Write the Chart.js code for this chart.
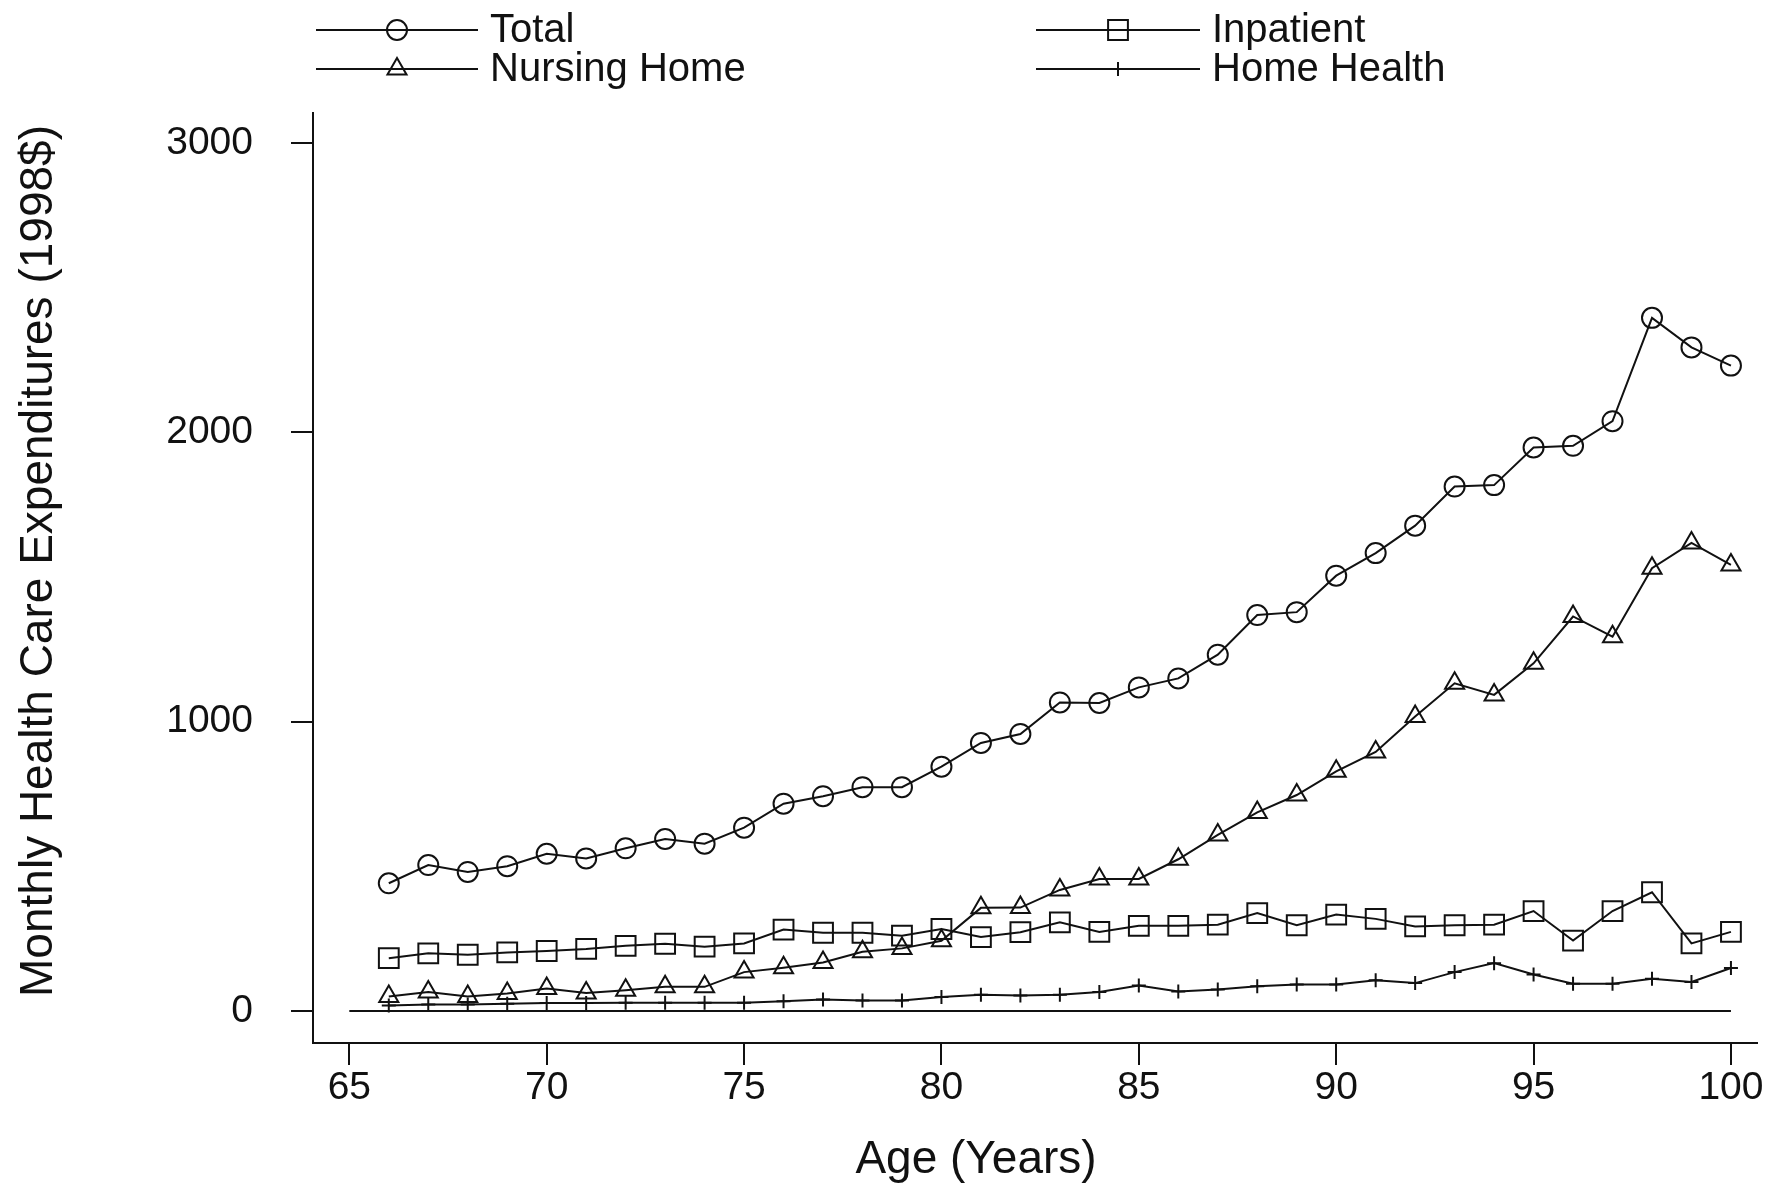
<!DOCTYPE html>
<html>
<head>
<meta charset="utf-8">
<title>Monthly Health Care Expenditures by Age</title>
<script src="https://cdn.jsdelivr.net/npm/chart.js@4.4.1/dist/chart.umd.min.js"></script>
<style>
  html, body { margin: 0; padding: 0; background: #fff; }
  #wrap { width: 1770px; height: 1191px; }
</style>
</head>
<body>
<div id="wrap"><canvas id="expChart" width="1770" height="1191"></canvas></div>
<script>
// ages (years) and monthly expenditures in 1998$
const ages = [66, 67, 68, 69, 70, 71, 72, 73, 74, 75, 76, 77, 78, 79, 80, 81, 82, 83,
              84, 85, 86, 87, 88, 89, 90, 91, 92, 93, 94, 95, 96, 97, 98, 99, 100];
const total = [441, 504, 480, 500, 543, 527, 562, 594, 578, 633, 716, 742, 773, 773, 844, 926, 957, 1066,
               1064, 1118, 1149, 1231, 1368, 1378, 1504, 1582, 1677, 1812, 1817, 1947, 1953, 2038, 2395, 2293, 2230];
const inpatient = [182, 199, 194, 202, 207, 214, 225, 232, 222, 233, 281, 270, 270, 260, 283, 255, 272, 306,
                   273, 294, 294, 298, 338, 296, 333, 318, 292, 296, 298, 345, 243, 345, 410, 233, 273];
const nursingHome = [50, 65, 50, 60, 77, 62, 71, 83, 83, 134, 149, 167, 204, 216, 242, 356, 357, 418,
                     456, 456, 524, 608, 686, 746, 828, 895, 1017, 1132, 1092, 1201, 1363, 1293, 1530, 1617, 1541];
const homeHealth = [19, 22, 22, 25, 27, 27, 28, 28, 28, 28, 33, 39, 36, 36, 48, 56, 53, 56,
                    65, 88, 67, 74, 85, 91, 91, 106, 96, 134, 165, 126, 94, 94, 111, 100, 148];

// zero reference line drawn across the age range
const refAges = [65, 100];
const refValues = [0, 0];

const xTicks = [65, 70, 75, 80, 85, 90, 95, 100];
const yTicks = [0, 1000, 2000, 3000];

const INK = '#111';
const FONT = '"Liberation Sans", Arial, Helvetica, sans-serif';

function toPoints(xs, ys) {
    return xs.map((x, i) => ({ x: x, y: ys[i] }));
}

function series(label, ys, style, radius) {
    return {
        label: label,
        data: toPoints(ages, ys),
        borderColor: INK,
        borderWidth: 2,
        pointStyle: style,
        pointRadius: radius,
        pointBorderColor: INK,
        pointBackgroundColor: 'rgba(0,0,0,0)',
        pointBorderWidth: 2,
        tension: 0,
        fill: false,
        clip: false
    };
}

const datasets = [
    series('Total', total, 'circle', 10),
    series('Inpatient', inpatient, 'rect', 14),
    series('Nursing Home', nursingHome, 'triangle', 11),
    series('Home Health', homeHealth, 'cross', 7),
    {
        label: '',
        data: toPoints(refAges, refValues),
        borderColor: INK,
        borderWidth: 2,
        pointRadius: 0,
        fill: false
    }
];

// legend slots: line start, line end, row line y, text baseline
const legendSlots = {
    'Total':        { x0: 316, x1: 478, y: 30, base: 42 },
    'Nursing Home': { x0: 316, x1: 478, y: 69, base: 81 },
    'Inpatient':    { x0: 1036, x1: 1200, y: 30, base: 42 },
    'Home Health':  { x0: 1036, x1: 1200, y: 69, base: 81 }
};

const figureText = {
    id: 'figureText',
    afterDraw(chart) {
        const ctx = chart.ctx;
        ctx.save();
        ctx.strokeStyle = INK;
        ctx.fillStyle = INK;
        ctx.lineWidth = 2;

        // legend
        chart.data.datasets.forEach(ds => {
            const slot = legendSlots[ds.label];
            if (!slot) return;
            ctx.beginPath();
            ctx.moveTo(slot.x0, slot.y);
            ctx.lineTo(slot.x1, slot.y);
            ctx.stroke();
            ctx.fillStyle = 'rgba(0,0,0,0)';
            Chart.helpers.drawPoint(ctx, {
                pointStyle: ds.pointStyle,
                radius: ds.pointRadius,
                borderWidth: 2,
                rotation: 0
            }, (slot.x0 + slot.x1) / 2, slot.y);
            ctx.fillStyle = INK;
            ctx.font = '40px ' + FONT;
            ctx.textAlign = 'left';
            ctx.textBaseline = 'alphabetic';
            ctx.fillText(ds.label, slot.x1 + 12, slot.base);
        });

        // axis titles
        ctx.font = '46px ' + FONT;
        ctx.textAlign = 'center';
        ctx.textBaseline = 'alphabetic';
        ctx.fillText('Age (Years)', 976, 1173);

        ctx.translate(52, 561);
        ctx.rotate(-Math.PI / 2);
        ctx.fillText('Monthly Health Care Expenditures (1998$)', 0, 0);
        ctx.restore();
    }
};

const config = {
    type: 'line',
    data: { datasets: datasets },
    options: {
        responsive: false,
        animation: false,
        layout: { autoPadding: false, padding: { top: 113, right: 13, left: 0, bottom: 0 } },
        plugins: {
            legend: { display: false },
            title: { display: false },
            tooltip: { enabled: false }
        },
        scales: {
            x: {
                type: 'linear',
                min: 64.08,
                max: 100.66,
                afterBuildTicks: s => { s.ticks = xTicks.map(v => ({ value: v })); },
                afterFit: s => { s.height = 148; },
                grid: { drawOnChartArea: false, drawTicks: true, tickLength: 22, color: INK, lineWidth: 2 },
                border: { display: true, color: INK, width: 2 },
                ticks: { font: { family: FONT, size: 39 }, color: INK, padding: 0, maxRotation: 0, autoSkip: false,
                         callback: v => String(v) }
            },
            y: {
                min: -111,
                max: 3103,
                afterBuildTicks: s => { s.ticks = yTicks.map(v => ({ value: v })); },
                afterFit: s => { s.width = 313; },
                grid: { drawOnChartArea: false, drawTicks: true, tickLength: 22, color: INK, lineWidth: 2 },
                border: { display: true, color: INK, width: 2 },
                ticks: { font: { family: FONT, size: 39 }, color: INK, padding: 38, callback: v => String(v) }
            }
        }
    },
    plugins: [figureText]
};

const expChart = new Chart(document.getElementById('expChart'), config);
</script>
</body>
</html>
